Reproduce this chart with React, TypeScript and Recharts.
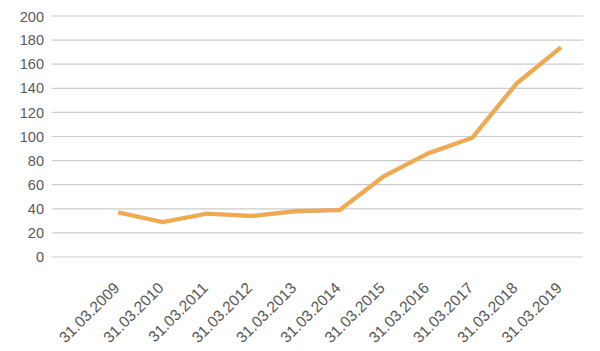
import React from 'react';
import { LineChart, Line, XAxis, YAxis, CartesianGrid } from 'recharts';

// Kategorien (erste Kategorie ist leer, wie im Original)
const dates = [
  '',
  '31.03.2009',
  '31.03.2010',
  '31.03.2011',
  '31.03.2012',
  '31.03.2013',
  '31.03.2014',
  '31.03.2015',
  '31.03.2016',
  '31.03.2017',
  '31.03.2018',
  '31.03.2019',
];
const values: (number | null)[] = [null, 37, 29, 36, 34, 38, 39, 67, 86, 99, 144, 174];
const yTicks = [0, 20, 40, 60, 80, 100, 120, 140, 160, 180, 200];

const data = dates.map((d, i) => ({ date: d, wert: values[i] }));

const FONT = '"Liberation Sans", Arial, sans-serif';
const TEXT = '#595959';

const DateTick = (props: any) => {
  const { x, y, payload } = props;
  const tx = x + 2;
  const ty = y + 24;
  return (
    <text
      x={tx}
      y={ty}
      transform={`rotate(-45, ${tx}, ${ty})`}
      textAnchor="end"
      fill={TEXT}
      fontSize={15.5}
      fontFamily={FONT}
    >
      {payload.value}
    </text>
  );
};

export default function App() {
  return (
    <div style={{ width: 584, height: 343 }}>
      <LineChart
        width={584}
        height={343}
        data={data}
        margin={{ top: 8, right: 9, left: 0, bottom: 0 }}
      >
        <CartesianGrid vertical={false} stroke="#cccccc" strokeWidth={1.2} />
        <XAxis
          dataKey="date"
          scale="band"
          interval={0}
          axisLine={false}
          tickLine={false}
          height={94}
          tick={<DateTick />}
        />
        <YAxis
          domain={[0, 200]}
          ticks={yTicks}
          width={44}
          axisLine={false}
          tickLine={false}
          tick={{ fill: TEXT, fontSize: 14.5, fontFamily: FONT }}
        />
        {/* Kontur */}
        <Line
          dataKey="wert"
          stroke="#d8b288"
          strokeWidth={4.4}
          dot={false}
          activeDot={false}
          strokeLinejoin="round"
          isAnimationActive={false}
        />
        <Line
          dataKey="wert"
          stroke="#F8A842"
          strokeWidth={3}
          dot={false}
          activeDot={false}
          strokeLinejoin="round"
          isAnimationActive={false}
        />
      </LineChart>
    </div>
  );
}
